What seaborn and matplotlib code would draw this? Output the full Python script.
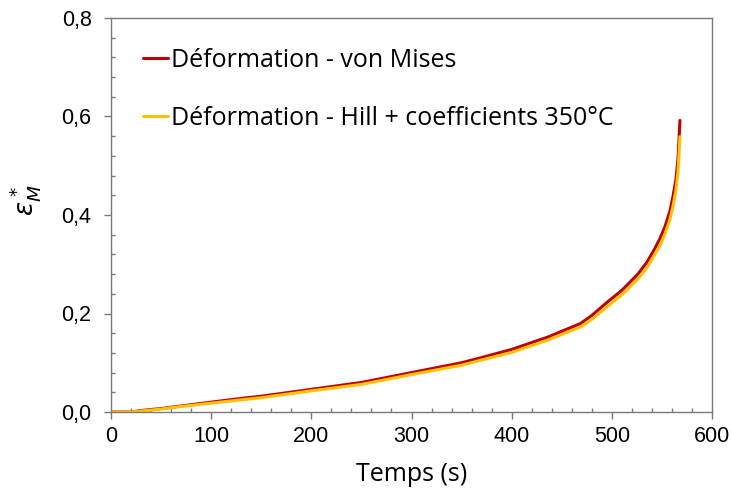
import matplotlib
matplotlib.use("Agg")
import matplotlib.pyplot as plt
from matplotlib.ticker import MultipleLocator, FuncFormatter
import seaborn as sns
import pandas as pd

# Data
t_vm = [0, 20, 30, 50, 69, 100, 136, 150, 200, 250, 270, 300, 350, 369, 400, 436, 469, 480,
        496, 510, 526, 535, 543, 548, 553, 558, 561, 564, 566, 567, 568]
eps_vm = [0, 0, 0.003, 0.007, 0.012, 0.020, 0.029, 0.032, 0.046, 0.060, 0.068, 0.080, 0.100,
          0.110, 0.127, 0.152, 0.180, 0.196, 0.224, 0.247, 0.280, 0.304, 0.332, 0.352, 0.376,
          0.408, 0.437, 0.472, 0.512, 0.550, 0.592]
t_hill = t_vm
eps_hill = [0, 0, 0.002, 0.006, 0.011, 0.018, 0.026, 0.029, 0.043, 0.056, 0.064, 0.076, 0.095,
            0.105, 0.121, 0.146, 0.173, 0.188, 0.215, 0.238, 0.270, 0.293, 0.320, 0.338, 0.361,
            0.391, 0.417, 0.450, 0.487, 0.520, 0.559]
labels = ["Déformation - von Mises", "Déformation - Hill + coefficients 350°C"]
colors = ["#C00000", "#FFC000"]

df = pd.concat([
    pd.DataFrame({"t": t_vm, "eps": eps_vm, "serie": labels[0]}),
    pd.DataFrame({"t": t_hill, "eps": eps_hill, "serie": labels[1]}),
])

sns.set_style("white")
plt.rcParams["font.family"] = ["Liberation Sans", "DejaVu Sans"]
plt.rcParams["text.color"] = "black"
plt.rcParams["axes.labelcolor"] = "black"

fig = plt.figure(figsize=(7.31, 4.92), dpi=100)
ax = fig.add_axes([111 / 731, 80 / 492, 601 / 731, 394 / 492])

sns.lineplot(data=df, x="t", y="eps", hue="serie", palette=colors, hue_order=labels,
             estimator=None, sort=False, linewidth=2.2, ax=ax, legend=True)

ax.set_xlim(0, 600)
ax.set_ylim(0, 0.8)
ax.xaxis.set_major_locator(MultipleLocator(100))
ax.xaxis.set_minor_locator(MultipleLocator(20))
ax.yaxis.set_major_locator(MultipleLocator(0.2))
ax.yaxis.set_minor_locator(MultipleLocator(0.04))
ax.yaxis.set_major_formatter(FuncFormatter(lambda v, p: f"{v:.1f}".replace(".", ",")))

spine_col = "#7a7a7a"
for s in ax.spines.values():
    s.set_color(spine_col)
    s.set_linewidth(1.0)
ax.tick_params(which="major", direction="out", length=5, width=1, color=spine_col,
               labelsize=15.5, labelcolor="black", bottom=True, left=True, top=False, right=False)
ax.tick_params(which="minor", direction="in", length=3, width=1, color=spine_col,
               bottom=True, left=True, top=False, right=False)
ax.tick_params(axis="x", which="major", pad=5)
ax.tick_params(axis="y", which="major", pad=9)

ax.set_xlabel("Temps (s)", family=["Open Sans"], fontsize=18, labelpad=11, color="black")
ax.set_ylabel(r"$\varepsilon^*_M$", fontsize=19, color="black")
ax.yaxis.set_label_coords(-0.113, 0.538)

leg = ax.legend(loc="upper left", bbox_to_anchor=(0.053, 0.924), frameon=False,
                handlelength=1.0, handletextpad=0.12, labelspacing=1.33,
                borderpad=0, borderaxespad=0,
                prop={"family": "Open Sans", "size": 18})
for txt in leg.get_texts():
    txt.set_color("black")
for h in leg.get_lines():
    h.set_linewidth(2.2)

fig.savefig("out.png", dpi=100)
